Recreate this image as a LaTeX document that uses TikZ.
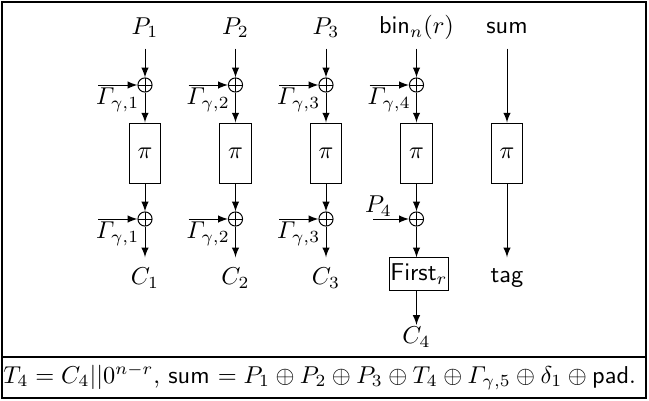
\documentclass[tikz,border=0pt]{standalone}
\usepackage{amsmath}
\usetikzlibrary{arrows}
\begin{document}
\begin{tikzpicture}[
    x=0.41pt,
    y=-0.41pt,
    xor/.style={
        circle,
        draw,
        minimum size=5.8pt,
        inner sep=0pt,
        path picture={
            \draw (path picture bounding box.north) -- (path picture bounding box.south)
                  (path picture bounding box.west) -- (path picture bounding box.east);
        }
    },
    perm/.style={
        rectangle,
        draw,
        minimum width=12.8pt,
        minimum height=24.6pt,
        inner sep=0pt
    },
    trunc/.style={
        rectangle,
        draw,
        minimum height=13.2pt,
        inner sep=0.5pt
    },
    term/.style={
        minimum height=16.6pt,
        inner sep=0pt
    },
    edge/.style={
        -latex
    }
]

% Frame
\useasboundingbox (0,0) rectangle (649,400);
\draw[line width=0.6pt] (2,2) rectangle (646,398);
\draw[line width=0.6pt] (2,357) -- (646,357);

% Nodes
\node[term] (p1) at (145,27.8) {$P_1$};
\node[term] (p2) at (235.5,27.8) {$P_2$};
\node[term] (p3) at (326,27.8) {$P_3$};
\node[term] (bin) at (416.5,27.8) {$\mathsf{bin}_n(r)$};
\node[term] (sum) at (507,27.8) {\textsf{sum}};

\node[xor] (x11) at (145,85) {};
\node[xor] (x21) at (235.5,85) {};
\node[xor] (x31) at (326,85) {};
\node[xor] (x41) at (416.5,85) {};

\node[perm] (pi1) at (145,153) {$\pi$};
\node[perm] (pi2) at (235.5,153) {$\pi$};
\node[perm] (pi3) at (326,153) {$\pi$};
\node[perm] (pi4) at (416.5,153) {$\pi$};
\node[perm] (pi5) at (507,153) {$\pi$};

\node[xor] (x12) at (145,219) {};
\node[xor] (x22) at (235.5,219) {};
\node[xor] (x32) at (326,219) {};
\node[xor] (x42) at (416.5,219) {};

\node[term] (c1) at (145,278) {$C_1$};
\node[term] (c2) at (235.5,278) {$C_2$};
\node[term] (c3) at (326,278) {$C_3$};
\node[trunc] (first) at (419,274) {$\mathsf{First}_r$};
\node[term] (tag) at (507,278) {\textsf{tag}};
\node[anchor=north, inner sep=0.5pt] (c4) at (416.5,325) {$C_4$};

\coordinate (g11) at (98,85);
\coordinate (g21) at (188.5,85);
\coordinate (g31) at (279,85);
\coordinate (g41) at (369.5,85);
\coordinate (g12) at (98,219);
\coordinate (g22) at (188.5,219);
\coordinate (g32) at (279,219);
\coordinate (m4) at (373,219);

\node[anchor=west, inner sep=0pt] (note) at (3,377) {$T_4 = C_4||0^{n-r}$, \textsf{sum} $= P_1 \oplus P_2 \oplus P_3 \oplus T_4 \oplus \varGamma_{\gamma,5} \oplus \delta_1 \oplus{}$\textsf{pad}.};

% Edges
\draw[edge] (p1) -- (x11);
\draw[edge] (x11) -- (pi1);
\draw[edge] (pi1) -- (x12);
\draw[edge] (x12) -- (c1);

\draw[edge] (p2) -- (x21);
\draw[edge] (x21) -- (pi2);
\draw[edge] (pi2) -- (x22);
\draw[edge] (x22) -- (c2);

\draw[edge] (p3) -- (x31);
\draw[edge] (x31) -- (pi3);
\draw[edge] (pi3) -- (x32);
\draw[edge] (x32) -- (c3);

\draw[edge] (bin) -- (x41);
\draw[edge] (x41) -- (pi4);
\draw[edge] (pi4) -- (x42);
\draw[edge] (x42) -- (x42 |- first.north);
\draw[edge] (x42 |- first.south) -- (c4);

\draw[edge] (sum) -- (pi5);
\draw[edge] (pi5) -- (tag);

\draw[edge] (g11) -- (x11) node[midway, below, inner sep=1pt] {$\varGamma_{\gamma,1}$};
\draw[edge] (g21) -- (x21) node[midway, below, inner sep=1pt] {$\varGamma_{\gamma,2}$};
\draw[edge] (g31) -- (x31) node[midway, below, inner sep=1pt] {$\varGamma_{\gamma,3}$};
\draw[edge] (g41) -- (x41) node[midway, below, inner sep=1pt] {$\varGamma_{\gamma,4}$};
\draw[edge] (g12) -- (x12) node[midway, below, inner sep=1pt] {$\varGamma_{\gamma,1}$};
\draw[edge] (g22) -- (x22) node[midway, below, inner sep=1pt] {$\varGamma_{\gamma,2}$};
\draw[edge] (g32) -- (x32) node[midway, below, inner sep=1pt] {$\varGamma_{\gamma,3}$};
\draw[edge] (m4) -- (x42) node[pos=0.15, above, inner sep=1pt] {$P_4$};

\end{tikzpicture}
\end{document}
